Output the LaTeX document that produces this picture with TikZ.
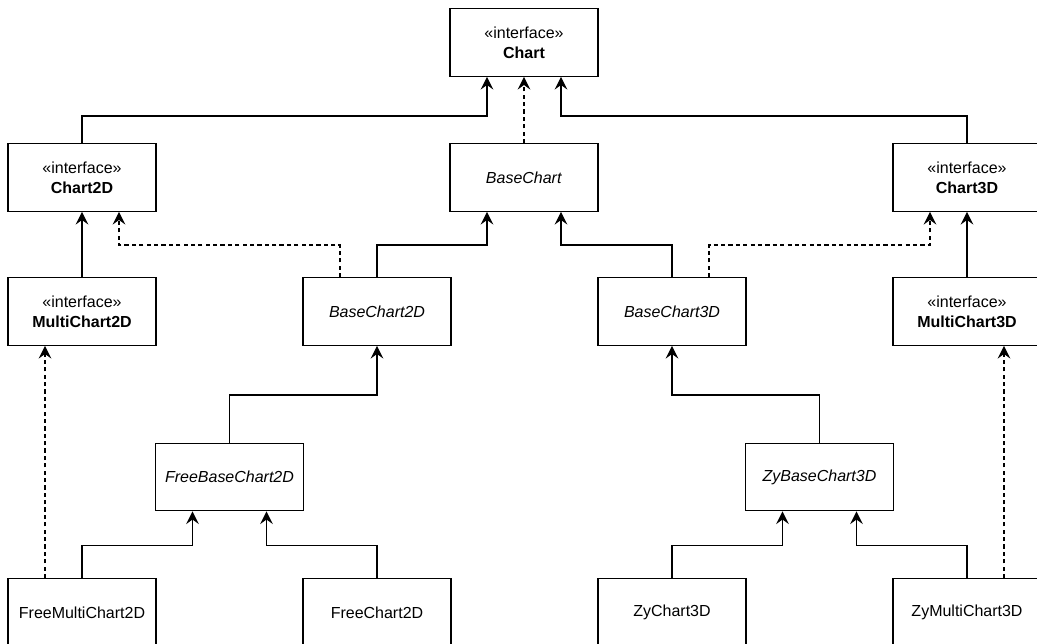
\documentclass[tikz,border=0pt]{standalone}
\usepackage{fontspec}
\setmainfont{Liberation Sans}
\usetikzlibrary{arrows.meta,calc}

\begin{document}
\begin{tikzpicture}[x=0.02cm,y=-0.02cm,
  box/.style={draw,line width=0.75pt,minimum width=2.96cm,minimum height=1.35cm,inner sep=0pt,align=center,font=\fontsize{9.1}{11.6}\selectfont},
  inh/.style={line width=0.75pt,-{Stealth[length=7.2pt,width=7.2pt,inset=2.6pt]}},
  real/.style={inh,dash pattern=on 2.4pt off 1.8pt}]
\useasboundingbox (0,0) rectangle (1037,643);
\clip (0,0) rectangle (1037,643);

% interfaces
\node (chart) at (524,42.5) [box]{«interface»\\\textbf{Chart}};
\node (chartII) at (82,177.5) [box]{«interface»\\\textbf{Chart2D}};
\node (chartIII) at (967,177.5) [box]{«interface»\\\textbf{Chart3D}};
\node (multiII) at (82,311.5) [box]{«interface»\\\textbf{MultiChart2D}};
\node (multiIII) at (967,311.5) [box]{«interface»\\\textbf{MultiChart3D}};

% abstract classes
\node (base) at (524,177.5) [box]{\textit{BaseChart}};
\node (baseII) at (377,311.5) [box]{\textit{BaseChart2D}};
\node (baseIII) at (672,311.5) [box]{\textit{BaseChart3D}};
\node (freeBase) at (229.5,477) [box]{\textit{FreeBaseChart2D}};
\node (zyBase) at (819.5,477) [box]{\textit{ZyBaseChart3D}};

% classes
\foreach \n/\x/\t in {freeMulti/82/FreeMultiChart2D,free/377/FreeChart2D,zy/672/ZyChart3D,zyMulti/967/ZyMultiChart3D}{ \node (\n) at (\x,612.5) [box]{\t}; }

\draw[inh] (chartII.north) |- ($(chart.south)+(-37,39)$) -- ($(chart.south)+(-37,0)$);
\draw[real] (base.north) -- (chart.south);
\draw[inh] (chartIII.north) |- ($(chart.south)+(37,39)$) -- ($(chart.south)+(37,0)$);

\draw[inh] (multiII.north) -- (chartII.south);
\draw[inh] (multiIII.north) -- (chartIII.south);
\draw[real] ($(baseII.north)+(-37,0)$) |- ($(chartII.south)+(37,33)$) -- ($(chartII.south)+(37,0)$);
\draw[inh] (baseII.north) |- ($(base.south)+(-37,33)$) -- ($(base.south)+(-37,0)$);
\draw[inh] (baseIII.north) |- ($(base.south)+(37,33)$) -- ($(base.south)+(37,0)$);
\draw[real] ($(baseIII.north)+(37,0)$) |- ($(chartIII.south)+(-37,33)$) -- ($(chartIII.south)+(-37,0)$);

\draw[inh] (freeBase.north) |- ($(baseII.south)+(0,49)$) -- (baseII.south);
\draw[inh] (zyBase.north) |- ($(baseIII.south)+(0,49)$) -- (baseIII.south);

\draw[real] ($(freeMulti.north)+(-37,0)$) -- ($(multiII.south)+(-37,0)$);
\draw[inh] (freeMulti.north) |- ($(freeBase.south)+(-37,34)$) -- ($(freeBase.south)+(-37,0)$);
\draw[inh] (free.north) |- ($(freeBase.south)+(37,34)$) -- ($(freeBase.south)+(37,0)$);
\draw[inh] (zy.north) |- ($(zyBase.south)+(-37,34)$) -- ($(zyBase.south)+(-37,0)$);
\draw[inh] (zyMulti.north) |- ($(zyBase.south)+(37,34)$) -- ($(zyBase.south)+(37,0)$);
\draw[real] ($(zyMulti.north)+(37,0)$) -- ($(multiIII.south)+(37,0)$);
\end{tikzpicture}
\end{document}
